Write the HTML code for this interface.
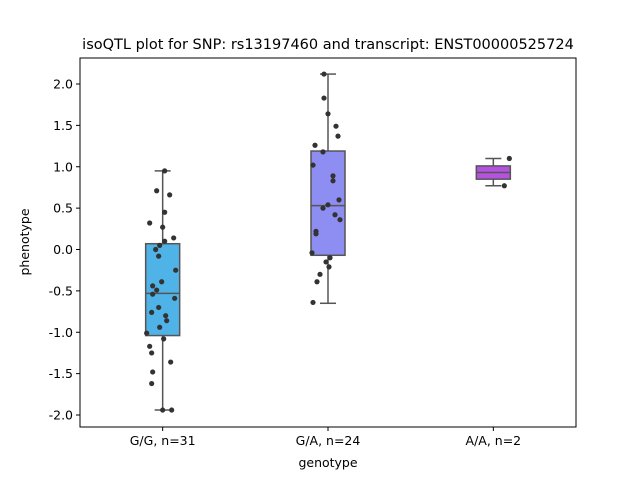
<!DOCTYPE html>
<html><head><meta charset="utf-8"><style>
body{margin:0;background:#fff;font-family:"DejaVu Sans",sans-serif}
text{font-family:"DejaVu Sans",sans-serif}
</style></head><body>
<svg id="c" width="640" height="480"></svg>
<script>
const categories=["G/G, n=31","G/A, n=24","A/A, n=2"];
const boxColors=["#4fb3e8","#8e8ef2","#b553e0"];
const q1=[-1.04,-0.07,0.85];
const medians=[-0.53,0.53,0.93];
const q3=[0.07,1.19,1.01];
const whiskLo=[-1.94,-0.65,0.77];
const whiskHi=[0.95,2.12,1.10];
const pts0=[0.95,0.71,0.66,0.45,0.32,0.27,0.14,0.10,0.05,0.0,-0.08,-0.25,-0.39,-0.44,-0.49,-0.54,-0.59,-0.70,-0.76,-0.80,-0.86,-0.94,-1.01,-1.08,-1.17,-1.25,-1.36,-1.48,-1.62,-1.94,-1.94];
const jit0=[2,-6,7,2,-13,0,11,2,-3,-7,-4,13,-1,-10,-6,-10,12,-4,-11,3,4,-3,-16,1,-13,-11,8,-10,-11,0,9];
const pts1=[2.12,1.83,1.64,1.49,1.37,1.26,1.18,1.02,0.89,0.83,0.54,0.60,0.50,0.42,0.36,0.22,0.19,-0.04,-0.10,-0.15,-0.21,-0.30,-0.39,-0.64];
const jit1=[-4,-4,0,8,10,-13,-5,-15,5,5,0,11,-5,7,12,-12,-12,-16,2,-2,1,-8,-11,-15];
const pts2=[1.10,0.77];
const jit2=[16,11];
const yTicks=[-2.0,-1.5,-1.0,-0.5,0.0,0.5,1.0,1.5,2.0];
const svg=document.getElementById('c');const NS='http://www.w3.org/2000/svg';
const L=80,R=576,T=58,B=427;
const y=v=>249.5-v*82.75;
const x=i=>L+(i+0.5)*(R-L)/categories.length;
function mk(t,a,p){const e=document.createElementNS(NS,t);for(const k in a)e.setAttribute(k,a[k]);(p||svg).appendChild(e);return e;}
const tt=mk('text',{x:328,y:49,'text-anchor':'middle','font-size':14.5});tt.textContent='isoQTL plot for SNP: rs13197460 and transcript: ENST00000525724';


yTicks.forEach(v=>{const l=mk('line',{x1:L-4,x2:L,y1:y(v),y2:y(v),stroke:'#000'});


const t=mk('text',{x:L-7,y:y(v)+4.5,'text-anchor':'end','font-size':12.5});t.textContent=v.toFixed(1);

});
const pts=[pts0,pts1,pts2],jit=[jit0,jit1,jit2];const hw=17;
categories.forEach((c,i)=>{const cx=x(i);
const g=mk('g',{});


mk('line',{x1:cx,x2:cx,y1:y(whiskHi[i]),y2:y(q3[i]),stroke:'#555','stroke-width':1.5},g);
mk('line',{x1:cx,x2:cx,y1:y(q1[i]),y2:y(whiskLo[i]),stroke:'#555','stroke-width':1.5},g);
mk('line',{x1:cx-8,x2:cx+8,y1:y(whiskHi[i]),y2:y(whiskHi[i]),stroke:'#555','stroke-width':1.5},g);
mk('line',{x1:cx-8,x2:cx+8,y1:y(whiskLo[i]),y2:y(whiskLo[i]),stroke:'#555','stroke-width':1.5},g);
mk('rect',{x:cx-hw,y:y(q3[i]),width:2*hw,height:y(q1[i])-y(q3[i]),fill:boxColors[i],stroke:'#555','stroke-width':1.5},g);
mk('line',{x1:cx-hw,x2:cx+hw,y1:y(medians[i]),y2:y(medians[i]),stroke:'#555','stroke-width':1.5},g);
pts[i].forEach((v,j)=>{const p=mk('circle',{cx:cx+jit[i][j],cy:y(v),r:2.6,fill:'#333'});

});
mk('line',{x1:cx,x2:cx,y1:B,y2:B+4,stroke:'#000'});
const t=mk('text',{x:cx,y:B+18,'text-anchor':'middle','font-size':12.5});t.textContent=c;

});
const fr=mk('rect',{x:L,y:T,width:R-L,height:B-T,fill:'none',stroke:'#000','stroke-width':1});


const xl=mk('text',{x:328,y:467,'text-anchor':'middle','font-size':12.5});xl.textContent='genotype';


const yl=mk('text',{x:0,y:0,'text-anchor':'middle','font-size':12.5,transform:'translate(29,242) rotate(-90)'});yl.textContent='phenotype';


</script>
</body></html>
